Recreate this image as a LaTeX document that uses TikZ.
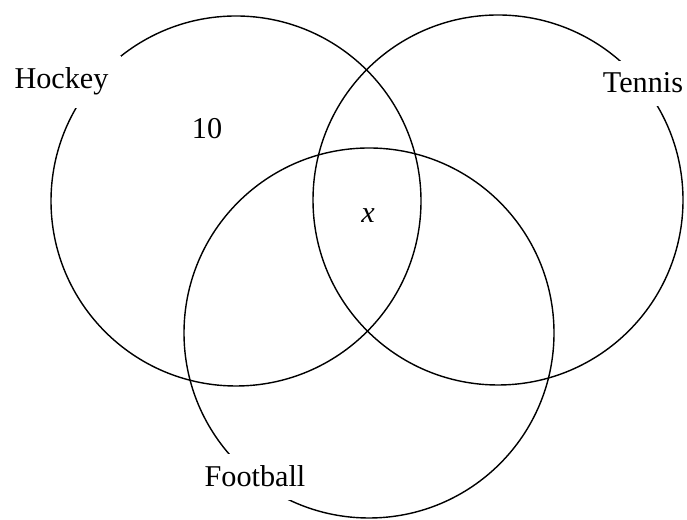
\documentclass[tikz,border=0pt]{standalone}
\usepackage{fontspec}
\setmainfont{Liberation Serif}
\usetikzlibrary{positioning}

\begin{document}
\begin{tikzpicture}[
  set/.style={draw, line width=0.4pt},
  setlabel/.style={fill=white, inner sep=3.5pt, anchor=base,
                   font=\fontsize{8.6}{10}\selectfont},
  count/.style={inner sep=0pt, anchor=base,
                font=\fontsize{8.6}{10}\selectfont}
]
  \useasboundingbox (0,0) rectangle (6.87,5.20);

  \coordinate (hockeyC)   at (2.36,3.19);
  \coordinate (tennisC)   at (4.98,3.20);
  \coordinate (footballC) at (3.69,1.87);

  \draw[set] (hockeyC)   circle (1.85);
  \draw[set] (tennisC)   circle (1.85);
  \draw[set] (footballC) circle (1.85);

  \node[setlabel] (hockey)   at (0.615,4.31) {Hockey};
  \node[setlabel] (tennis)   at (6.43,4.27)  {Tennis};
  \node[setlabel] (football) at (2.55,0.33)  {Football};

  \node[count] (onlyH) at (2.07,3.81) {10};
  \node[count] (all)   at (3.68,2.97) {\textit{x}};
\end{tikzpicture}
\end{document}
